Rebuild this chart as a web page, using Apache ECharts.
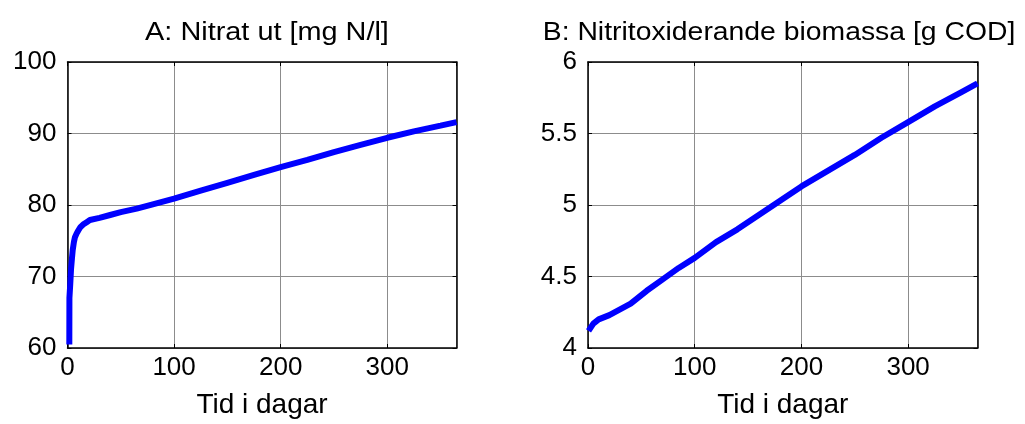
<!DOCTYPE html>
<html>
<head>
<meta charset="utf-8">
<script src="https://cdn.jsdelivr.net/npm/echarts@6/dist/echarts.min.js"></script>
<style>
  html, body { margin: 0; padding: 0; background: #fff; }
  #chart { width: 1025px; height: 424px; }
</style>
</head>
<body>
<div id="chart"></div>
<script>
// ---- data ----
const titleA = 'A: Nitrat ut [mg N/l]';
const titleB = 'B: Nitritoxiderande biomassa [g COD]';
const xLabel = 'Tid i dagar';

const daysA = [1.7, 1.8, 2.6, 3.3, 4.2, 4.9, 6, 7, 8.5, 10, 12, 15, 18, 21, 30, 40, 50, 65, 80, 100, 125, 150, 175, 200, 225, 250, 275, 300, 325, 350, 365];
const nitratA = [60.5, 67, 69, 71, 72.6, 73.7, 74.8, 75.5, 76.0, 76.4, 76.9, 77.3, 77.6, 77.9, 78.2, 78.6, 79.0, 79.5, 80.1, 80.9, 82.0, 83.1, 84.2, 85.3, 86.3, 87.4, 88.4, 89.4, 90.3, 91.1, 91.6];

const daysB = [0.5, 2, 5, 10, 20, 30, 40, 55, 70, 85, 100, 120, 140, 160, 180, 200, 225, 250, 275, 300, 325, 350, 365];
const biomassB = [4.12, 4.13, 4.17, 4.20, 4.23, 4.27, 4.31, 4.40, 4.48, 4.56, 4.63, 4.74, 4.83, 4.93, 5.03, 5.13, 5.24, 5.35, 5.47, 5.58, 5.69, 5.79, 5.85];

// ---- chart ----
const FONT = 'Liberation Sans, Arial, sans-serif';
const FS = 26;
const chart = echarts.init(document.getElementById('chart'), null, { renderer: 'canvas' });

function xAxes(gi) {
  return [
    {
      gridIndex: gi, type: 'value', position: 'bottom', min: 0, max: 365, interval: 100,
      axisLine: { onZero: false, lineStyle: { color: '#000', width: 1.5 } },
      axisTick: { inside: true, length: 4, lineStyle: { color: '#000' } },
      axisLabel: { color: '#000', fontSize: FS, fontFamily: FONT, margin: 7, showMaxLabel: false },
      splitLine: { show: true, lineStyle: { color: '#8c8c8c', width: 1 } },
      name: xLabel, nameLocation: 'middle', nameGap: 43,
      nameTextStyle: { color: '#000', fontSize: 28, fontFamily: FONT }
    },
    {
      gridIndex: gi, type: 'value', position: 'top', min: 0, max: 365, interval: 100,
      axisLine: { onZero: false, lineStyle: { color: '#000', width: 1.5 } },
      axisTick: { inside: true, length: 4, lineStyle: { color: '#000' } },
      axisLabel: { show: false },
      splitLine: { show: false }
    }
  ];
}
function yAxes(gi, min, max, interval) {
  return [
    {
      gridIndex: gi, type: 'value', position: 'left', min: min, max: max, interval: interval,
      axisLine: { show: true, onZero: false, lineStyle: { color: '#000', width: 1.5 } },
      axisTick: { show: true, inside: true, length: 4, lineStyle: { color: '#000' } },
      axisLabel: { color: '#000', fontSize: FS, fontFamily: FONT, margin: 11, padding: [0, 0, 5, 0] },
      splitLine: { show: true, lineStyle: { color: '#8c8c8c', width: 1 } }
    },
    {
      gridIndex: gi, type: 'value', position: 'right', min: min, max: max, interval: interval,
      axisLine: { show: true, onZero: false, lineStyle: { color: '#000', width: 1.5 } },
      axisTick: { show: true, inside: true, length: 4, lineStyle: { color: '#000' } },
      axisLabel: { show: false },
      splitLine: { show: false }
    }
  ];
}

const option = {
  animation: false,
  backgroundColor: '#fff',
  grid: [
    { left: 67.5, top: 62, width: 389, height: 291 },
    { left: 588, top: 62, width: 389.5, height: 291 }
  ],
  xAxis: [...xAxes(0), ...xAxes(1)],
  yAxis: [...yAxes(0, 60, 100, 10), ...yAxes(1, 4, 6, 0.5)],
  series: [
    {
      type: 'line', xAxisIndex: 0, yAxisIndex: 0, showSymbol: false, smooth: false,
      lineStyle: { color: '#0000ff', width: 6 },
      data: daysA.map((d, i) => [d, nitratA[i]])
    },
    {
      type: 'line', xAxisIndex: 2, yAxisIndex: 2, showSymbol: false, smooth: false,
      lineStyle: { color: '#0000ff', width: 6 },
      data: daysB.map((d, i) => [d, biomassB[i]])
    }
  ],
  graphic: [
    { type: 'text', x: 267, y: 33, scaleX: 1.11, style: { text: titleA, fill: '#000', font: '26px ' + FONT, textAlign: 'center', textVerticalAlign: 'middle' } },
    { type: 'text', x: 779, y: 33, scaleX: 1.09, style: { text: titleB, fill: '#000', font: '26px ' + FONT, textAlign: 'center', textVerticalAlign: 'middle' } }
  ]
};
chart.setOption(option);
</script>
</body>
</html>
